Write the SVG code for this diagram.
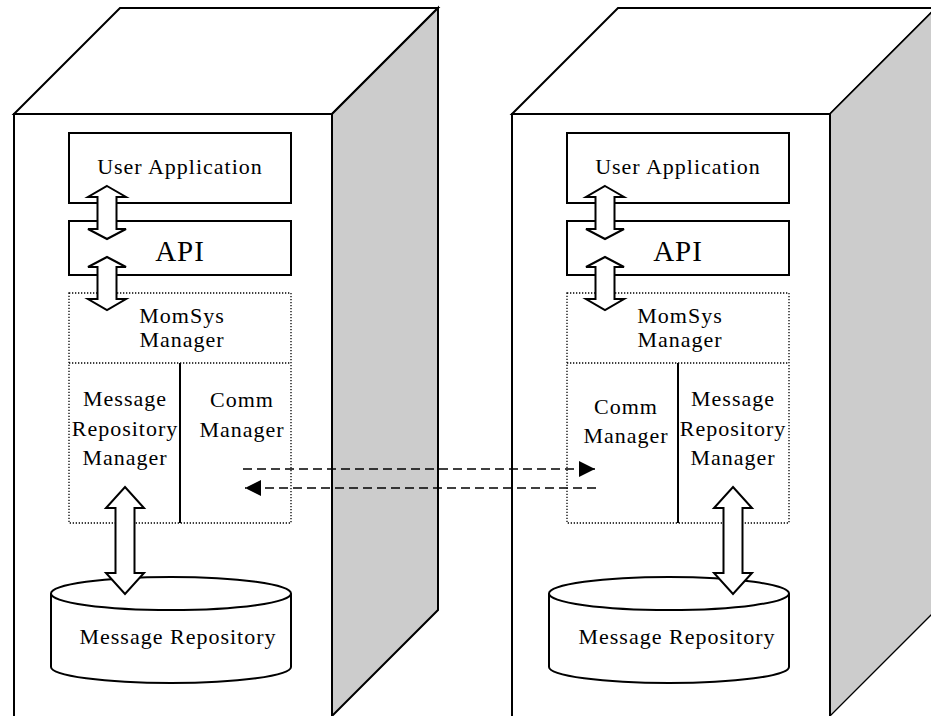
<svg xmlns="http://www.w3.org/2000/svg" width="931" height="716" viewBox="0 0 931 716">
<defs>
<style>
.box{fill:#fff;stroke:#000;stroke-width:2}
.side{fill:#ccc;stroke:#000;stroke-width:2}
.comp{fill:#fff;stroke:#000;stroke-width:2}
.dot{fill:none;stroke:#000;stroke-width:1.3;stroke-dasharray:1.3 1.7}
.div{stroke:#000;stroke-width:2}
.blk{fill:#fff;stroke:#000;stroke-width:2;stroke-linejoin:miter}
.dash{fill:none;stroke:#000;stroke-width:1.6;stroke-dasharray:9 5}
text{font-family:"Liberation Serif","Times New Roman",serif;font-size:22px;letter-spacing:1px;fill:#000;text-anchor:middle}
.api{font-size:29px}
</style>
<marker id="ah" viewBox="0 0 16 16" refX="16" refY="8" markerWidth="16" markerHeight="16" markerUnits="userSpaceOnUse" orient="auto">
<path d="M0,0 L16,8 L0,16 Z" fill="#000"/>
</marker>
</defs>

<g id="host-left">
<polygon class="box" points="14,114 120,8 438,8 332,114"/>
<polygon class="side" points="332,114 438,8 438,610 332,716"/>
<rect class="box" x="14" y="114" width="318" height="620"/>
</g>

<g id="host-right">
<polygon class="box" points="512,114 618,8 936,8 830,114"/>
<polygon class="side" points="830,114 936,8 936,610 830,716" style="stroke-width:1.3"/>
<rect class="box" x="512" y="114" width="318" height="620"/>
</g>

<g id="ua-left"><rect class="comp" x="69" y="133" width="222" height="70"/><text x="180" y="174">User Application</text></g>
<g id="api-left"><rect class="comp" x="69" y="221" width="222" height="54"/><text class="api" x="180" y="261">API</text></g>
<g id="mom-left">
<rect class="dot" x="69" y="293" width="222" height="230"/>
<line class="dot" x1="69" y1="363" x2="291" y2="363"/>
<line class="div" x1="180" y1="363" x2="180" y2="523"/>
<text x="182" y="323">MomSys</text><text x="182" y="347">Manager</text>
</g>
<g id="mrm-left"><text x="125" y="406">Message</text><text x="125" y="436">Repository</text><text x="125" y="465">Manager</text></g>
<g id="comm-left"><text x="242" y="407">Comm</text><text x="242" y="437">Manager</text></g>
<g id="repo-left">
<path class="comp" d="M51,593.5 L51,667 A120,16 0 0 0 291,667 L291,593.5"/>
<ellipse class="comp" cx="171" cy="593.5" rx="120" ry="16.5"/>
<text x="178" y="644">Message Repository</text>
</g>

<g id="ua-right"><rect class="comp" x="567" y="133" width="222" height="70"/><text x="678" y="174">User Application</text></g>
<g id="api-right"><rect class="comp" x="567" y="221" width="222" height="54"/><text class="api" x="678" y="261">API</text></g>
<g id="mom-right">
<rect class="dot" x="567" y="293" width="222" height="230"/>
<line class="dot" x1="567" y1="363" x2="789" y2="363"/>
<line class="div" x1="678" y1="363" x2="678" y2="523"/>
<text x="680" y="323">MomSys</text><text x="680" y="347">Manager</text>
</g>
<g id="comm-right"><text x="626" y="414">Comm</text><text x="626" y="443">Manager</text></g>
<g id="mrm-right"><text x="733" y="406">Message</text><text x="733" y="436">Repository</text><text x="733" y="465">Manager</text></g>
<g id="repo-right">
<path class="comp" d="M549,593.5 L549,667 A120,16 0 0 0 789,667 L789,593.5"/>
<ellipse class="comp" cx="669" cy="593.5" rx="120" ry="16.5"/>
<text x="677" y="644">Message Repository</text>
</g>

<g id="connectors">
<path class="blk" d="M107,186 L126,197 L116.5,197 L116.5,229 L126,229 L107,239 L88,229 L97.5,229 L97.5,197 L88,197 Z"/>
<path class="blk" d="M107,257 L126,267 L116.5,267 L116.5,299 L126,299 L107,310 L88,299 L97.5,299 L97.5,267 L88,267 Z"/>
<path class="blk" d="M125,487 L144,508 L134.5,508 L134.5,573 L144,573 L125,594 L106,573 L115.5,573 L115.5,508 L106,508 Z"/>
<path class="blk" d="M605,186 L624,197 L614.5,197 L614.5,229 L624,229 L605,239 L586,229 L595.5,229 L595.5,197 L586,197 Z"/>
<path class="blk" d="M605,257 L624,267 L614.5,267 L614.5,299 L624,299 L605,310 L586,299 L595.5,299 L595.5,267 L586,267 Z"/>
<path class="blk" d="M733,487 L752,508 L742.5,508 L742.5,573 L752,573 L733,594 L714,573 L723.5,573 L723.5,508 L714,508 Z"/>
<line class="dash" x1="243" y1="469" x2="595" y2="469" marker-end="url(#ah)"/>
<line class="dash" x1="596" y1="488" x2="245" y2="488" marker-end="url(#ah)"/>
</g>
</svg>
